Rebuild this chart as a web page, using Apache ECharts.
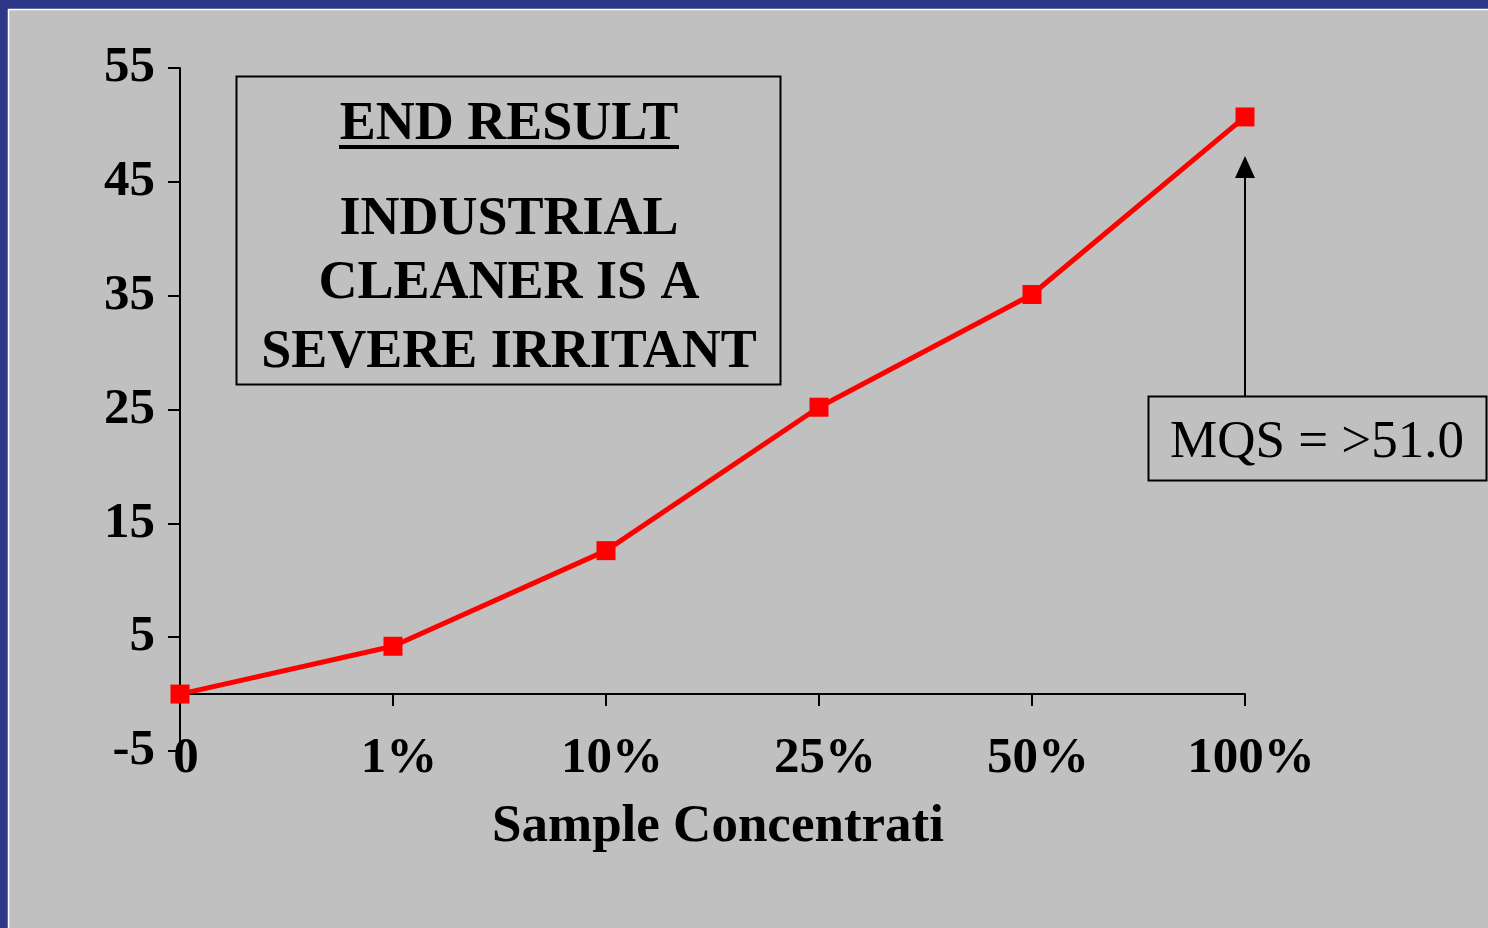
<!DOCTYPE html>
<html>
<head>
<meta charset="utf-8">
<script src="https://cdn.jsdelivr.net/npm/echarts@6/dist/echarts.min.js"></script>
<style>
  html, body { margin: 0; padding: 0; background: #2e3787; }
  #chart { width: 1488px; height: 928px; }
</style>
</head>
<body>
<div id="chart"></div>
<script>
// data
var categories = ["0", "1%", "10%", "25%", "50%", "100%"];
var scores = [0, 4.2, 12.6, 25.2, 35.1, 50.7];
var yMin = -5, yMax = 55, yStep = 10;

var serif = "'Liberation Serif', 'Times New Roman', serif";

var chartDom = document.getElementById("chart");
var myChart = echarts.init(chartDom);

var labelFont = {
  color: "#000",
  fontFamily: serif,
  fontWeight: "bold",
  fontSize: 51
};

var option = {
  backgroundColor: "#2e3787",
  animation: false,
  grid: { left: 180, right: 243, top: 68, bottom: 177 },
  xAxis: [
    {
      // axis line that crosses at zero, ticks only
      type: "category",
      data: categories,
      boundaryGap: false,
      axisLine: { onZero: true, lineStyle: { color: "#000", width: 2 } },
      axisTick: { length: 12, lineStyle: { color: "#000", width: 2 } },
      axisLabel: { show: false }
    },
    {
      // labels sit below the plot, as in the original
      type: "category",
      data: categories,
      position: "bottom",
      boundaryGap: false,
      axisLine: { show: false, onZero: false },
      axisTick: { show: false },
      axisLabel: Object.assign({ margin: -18, padding: [0, 0, 0, 12] }, labelFont)
    }
  ],
  yAxis: {
    type: "value",
    min: yMin,
    max: yMax,
    interval: yStep,
    splitLine: { show: false },
    axisLine: { show: true, onZero: false, lineStyle: { color: "#000", width: 2 } },
    axisTick: { show: true, length: 12, lineStyle: { color: "#000", width: 2 } },
    axisLabel: Object.assign({ margin: 25 }, labelFont)
  },
  series: [
    {
      type: "line",
      data: scores,
      symbol: "rect",
      symbolSize: 19,
      lineStyle: { color: "#ff0000", width: 5 },
      itemStyle: { color: "#ff0000" },
      z: 5
    }
  ],
  graphic: [
    // slide background with thin white edge
    {
      type: "rect",
      z: -100,
      silent: true,
      shape: { x: 8.5, y: 9.5, width: 1490, height: 930 },
      style: { fill: "#c0c0c0", stroke: "#ffffff", lineWidth: 1.5 }
    },
    // axis title, cut off at the right as in the source slide
    {
      type: "text",
      x: 492, y: 827,
      style: {
        text: "Sample Concentration", fill: "#000", font: "bold 53px " + serif,
        align: "left", verticalAlign: "middle",
        width: 458, overflow: "truncate", ellipsis: ""
      }
    },
    // END RESULT box
    {
      type: "rect",
      shape: { x: 236.5, y: 76.5, width: 544, height: 308 },
      style: { fill: "none", stroke: "#000", lineWidth: 2 }
    },
    {
      type: "text",
      x: 509, y: 125,
      style: {
        text: "END RESULT", fill: "#000", font: "bold 54px " + serif,
        align: "center", verticalAlign: "middle"
      }
    },
    {
      type: "line",
      shape: { x1: 339, y1: 147, x2: 679, y2: 147 },
      style: { stroke: "#000", lineWidth: 4 }
    },
    {
      type: "text",
      x: 509, y: 220,
      style: {
        text: "INDUSTRIAL", fill: "#000", font: "bold 54px " + serif,
        align: "center", verticalAlign: "middle"
      }
    },
    {
      type: "text",
      x: 509, y: 284,
      style: {
        text: "CLEANER IS A", fill: "#000", font: "bold 54px " + serif,
        align: "center", verticalAlign: "middle"
      }
    },
    {
      type: "text",
      x: 509, y: 353,
      style: {
        text: "SEVERE IRRITANT", fill: "#000", font: "bold 54px " + serif,
        align: "center", verticalAlign: "middle"
      }
    },
    // MQS callout
    {
      type: "line",
      shape: { x1: 1245, y1: 396, x2: 1245, y2: 175 },
      style: { stroke: "#000", lineWidth: 2 }
    },
    {
      type: "polygon",
      shape: { points: [[1245, 156], [1235, 178], [1255, 178]] },
      style: { fill: "#000" }
    },
    {
      type: "rect",
      shape: { x: 1148.5, y: 396.5, width: 338, height: 84 },
      style: { fill: "#c0c0c0", stroke: "#000", lineWidth: 2 }
    },
    {
      type: "text",
      x: 1317, y: 443,
      style: {
        text: "MQS = >51.0", fill: "#000", font: "53px " + serif,
        align: "center", verticalAlign: "middle"
      }
    }
  ]
};

option && myChart.setOption(option);
</script>
</body>
</html>
